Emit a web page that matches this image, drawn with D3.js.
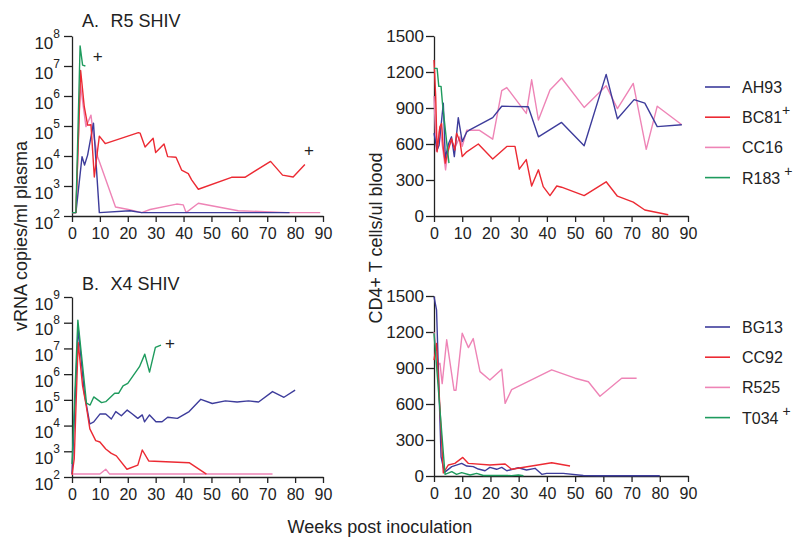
<!DOCTYPE html>
<html><head><meta charset="utf-8">
<script src="https://cdn.jsdelivr.net/npm/d3@7"></script>
<style>body{margin:0;background:#fff} svg{font-family:"Liberation Sans",Arial,sans-serif}</style>
</head><body><svg id="c" width="800" height="550"></svg>
<script>
const weekTicks = [0,10,20,30,40,50,60,70,80,90];
const cd4Ticks = [0,300,600,900,1200,1500];
const r5LogTicks = [2,3,4,5,6,7,8];
const x4LogTicks = [2,3,4,5,6,7,8,9];
const r5Animals = ["AH93","BC81","CC16","R183"];
const x4Animals = ["BG13","CC92","R525","T034"];
const r5Plus = [false,true,false,true];
const x4Plus = [false,false,false,true];
const colors = ["#3d3c9b","#ec2a33","#ee84b6","#1e9b5d"];

// R5 SHIV viral load [week, vRNA copies/ml]
const vlAH93 = [[0,130],[1.4,130],[3.6,9500],[4.5,5000],[5.6,10700],[7.7,125000],[9.8,130],[20.8,150],[25,130],[78,130]];
const vlBC81 = [[0,130],[1.4,130],[3.1,7100000],[4.4,440000],[5.6,107000],[6.8,110000],[8.0,2000],[9.8,46000],[11.9,26000],[23.8,60000],[24.4,58000],[26.2,20000],[29.1,39000],[30.0,13000],[33.0,25000],[34.3,9500],[37.3,9100],[39.3,3400],[41.7,2600],[42.9,1600],[45.3,780],[57.2,1950],[62.0,1950],[71.2,6600],[75.5,2300],[79.3,2000],[83.5,5200]];
const vlCC16 = [[0,130],[1.4,130],[3.0,2500000],[5.0,95000],[6.8,230000],[7.6,58000],[9.2,9500],[15.6,200],[20.2,165],[25.0,130],[28.0,165],[37.5,250],[39.9,235],[40.9,130],[45.3,265],[59.6,150],[77,130],[89,130]];
const vlR183 = [[0,130],[1.4,130],[2.9,47000000],[3.8,10700000],[4.8,10000000]];

// R5 SHIV CD4 counts [week, cells/ul]
const cdAH93 = [[0,690],[1.1,550],[1.8,590],[3.3,940],[4.0,480],[5.1,600],[6.2,660],[7.2,495],[8.6,820],[10,620],[11.6,700],[12.5,715],[20.8,820],[24,915],[33.4,910],[37,660],[45.2,780],[53.2,585],[61,1180],[65,810],[70.9,970],[74.7,940],[79.1,745],[87.8,760]];
const cdBC81 = [[0,1300],[0.6,995],[1.1,535],[2.1,745],[2.7,770],[3.3,565],[4.0,440],[5.1,550],[6.2,645],[7.4,550],[8,690],[9.2,620],[10,495],[11.6,535],[15.7,600],[20.8,475],[25.8,580],[28.7,580],[30.2,390],[32.7,470],[34.6,250],[37,385],[38.7,245],[41.1,170],[43.5,250],[45.2,240],[53.2,170],[61,285],[65,165],[70.6,115],[74.7,50],[83,10]];
const cdCC16 = [[0,1000],[0.8,540],[2.1,740],[4.1,385],[5.1,580],[6.2,620],[7.4,570],[9.2,660],[10,580],[11.6,715],[16,715],[20.8,640],[24,1045],[25.8,1070],[32.7,855],[34.6,1135],[37,800],[41.1,1050],[45.2,1150],[53.2,905],[61,1085],[65,895],[70.6,1105],[75.2,555],[79.1,915],[87.8,760]];
const cdR183 = [[0,1230],[1.1,1230],[1.7,1080],[2.5,1080],[3.0,940],[5.3,440]];

// X4 SHIV viral load
const vlBG13 = [[0,130],[2.2,63000000],[4.5,160000],[6.4,11500],[7.8,14000],[10,28000],[12.1,28000],[14.1,18000],[15.7,35000],[17.7,24000],[19.8,40000],[21.3,30000],[23.6,19000],[25.2,26000],[26,14000],[27.8,26000],[30.1,14000],[32.3,14000],[34.3,21000],[37.8,19000],[42,35000],[46.2,105000],[50.3,72000],[55,91000],[59.2,83000],[63.3,91000],[66.9,83000],[71.9,210000],[76,126000],[80,240000]];
const vlCC92 = [[0,120],[0.8,500],[2.2,17000000],[3.8,350000],[5.0,69000],[6.4,7400],[8.5,2600],[10,2300],[12.1,1230],[14.1,830],[15.9,660],[19.7,200],[23.6,290],[25.2,1120],[27.5,420],[42,360],[48.2,130]];
const vlR525 = [[0,130],[10,130],[12.1,200],[13.5,130],[71.9,130]];
const vlT034 = [[0,320],[2.1,126000000],[5.2,74000],[6.5,63000],[7.8,130000],[10.6,78000],[12.1,85000],[15.3,180000],[16.7,180000],[18.3,350000],[20,440000],[24.2,1950000],[26.1,6000000],[27.8,1200000],[29.9,11000000],[31.9,13500000]];

// X4 SHIV CD4 counts
const cdBG13 = [[0,1495],[0.9,1385],[2.5,160],[3.7,30],[6.3,78],[9.8,105],[11.6,83],[13.9,78],[15.7,58],[18.1,44],[19.8,72],[22.2,56],[24,72],[25.8,44],[29.9,69],[32.8,50],[35.8,64],[38.2,14],[39.9,22],[45.8,22],[52.9,4],[57.7,2],[80,2]];
const cdCC92 = [[0,965],[0.9,1105],[3.3,25],[5.1,92],[7.4,105],[10.2,155],[12.2,105],[19.8,92],[25.2,100],[27.5,56],[41.7,110],[48.2,83]];
const cdR525 = [[0,1200],[1.5,925],[2.1,940],[2.9,770],[4.5,1135],[7.1,715],[7.8,715],[10,1190],[12.2,1070],[13.9,1145],[16.3,870],[19.8,800],[24,890],[25.2,605],[27.5,720],[41.7,885],[50,815],[54.7,785],[58.8,665],[66.5,815],[71.8,815]];
const cdT034 = [[0,1190],[3.9,14],[6.3,36],[8,14],[9.8,28],[12.8,8],[15.1,22],[17.5,4],[26,4],[27.5,3],[29.9,8],[31.7,2]];

// "+" death annotations [week, value]
const plusA = [[9.2,20000000],[85,15000]];
const plusB = [[35.1,16000000]];

const svg = d3.select("#c");
const AX = "#222";

function axisStyle(g){
  g.selectAll("path,line").attr("stroke",AX).attr("stroke-width",1.3);
  g.selectAll("text").attr("fill","#222");
}

function panel(opts){
  const x = d3.scaleLinear().domain([0,90]).range(opts.xr);
  const y = opts.log
    ? d3.scaleLog().domain([100, opts.top]).range(opts.yr)
    : d3.scaleLinear().domain([0,1500]).range(opts.yr);
  const gx = svg.append("g").attr("transform",`translate(0,${opts.yr[0]})`)
    .call(d3.axisBottom(x).tickValues(weekTicks).tickSize(6).tickSizeOuter(0).tickPadding(6));
  gx.selectAll("text").attr("font-size",16);
  axisStyle(gx);
  const gy = svg.append("g").attr("transform",`translate(${opts.xr[0]},0)`);
  if(opts.log){
    const ticks = opts.logTicks.map(e=>Math.pow(10,e));
    gy.call(d3.axisLeft(y).tickValues(ticks).tickSize(8).tickSizeOuter(0).tickFormat(""));
    gy.selectAll(".tick").each(function(d){
      const t = d3.select(this).append("text").attr("x",-12).attr("y",12)
        .attr("text-anchor","end").attr("font-size",17).attr("fill","#222");
      t.append("tspan").text("10");
      t.append("tspan").attr("dy",-11).attr("font-size",12).text(Math.round(Math.log10(d)));
    });
  } else {
    gy.call(d3.axisLeft(y).tickValues(cd4Ticks).tickSize(8).tickSizeOuter(0).tickPadding(2).tickFormat(d3.format("d")));
    gy.selectAll("text").attr("font-size",17);
  }
  axisStyle(gy);
  const line = d3.line().x(d=>x(d[0])).y(d=>y(d[1]));
  opts.order.forEach(i=>{
    svg.append("path").datum(opts.series[i]).attr("d",line)
      .attr("fill","none").attr("stroke",colors[i]).attr("stroke-width",1.4)
      .attr("stroke-linejoin","round");
  });
  (opts.plus||[]).forEach(p=>{
    svg.append("text").attr("x",x(p[0])).attr("y",y(p[1])+5.5)
      .attr("text-anchor","middle").attr("font-size",17).attr("fill","#222").text("+");
  });
}

panel({xr:[72,323], yr:[216,36], log:true, top:1e8, logTicks:r5LogTicks,
  series:[vlAH93,vlBC81,vlCC16,vlR183], order:[2,0,1,3], plus:plusA});
panel({xr:[72,323], yr:[477,297], log:true, top:1e9, logTicks:x4LogTicks,
  series:[vlBG13,vlCC92,vlR525,vlT034], order:[2,0,1,3], plus:plusB});
panel({xr:[434,688], yr:[216,36], log:false,
  series:[cdAH93,cdBC81,cdCC16,cdR183], order:[2,0,1,3]});
panel({xr:[434,688], yr:[476,296], log:false,
  series:[cdBG13,cdCC92,cdR525,cdT034], order:[2,0,1,3]});

// titles
function title(letter, name, yb){
  svg.append("text").attr("x",82).attr("y",yb).attr("font-size",18).attr("fill","#222").text(letter);
  svg.append("text").attr("x",110.5).attr("y",yb).attr("font-size",18).attr("fill","#222").text(name);
}
title("A.","R5 SHIV",27);
title("B.","X4 SHIV",290);

// axis titles
svg.append("text").attr("transform","translate(27,236) rotate(-90)").attr("text-anchor","middle")
  .attr("font-size",18).attr("fill","#222").text("vRNA copies/ml plasma");
svg.append("text").attr("transform","translate(382,238) rotate(-90)").attr("text-anchor","middle")
  .attr("font-size",18).attr("fill","#222").text("CD4+ T cells/ul blood");
svg.append("text").attr("x",380).attr("y",533).attr("text-anchor","middle")
  .attr("font-size",18).attr("fill","#222").text("Weeks post inoculation");

// legends
function legend(names, plus, y0){
  names.forEach((n,i)=>{
    const yy = y0 + i*30.2;
    svg.append("line").attr("x1",705).attr("x2",730).attr("y1",yy).attr("y2",yy)
      .attr("stroke",colors[i]).attr("stroke-width",1.6);
    const t = svg.append("text").attr("x",742).attr("y",yy+6).attr("font-size",16).attr("fill","#222").text(n);
    if(plus[i]){
      const w = t.node().getComputedTextLength();
      const gap = (n==="BC81") ? 0 : 4;
      svg.append("text").attr("x",742+w+gap).attr("y",yy-2).attr("font-size",14).attr("fill","#222").text("+");
    }
  });
}
legend(r5Animals, r5Plus, 87);
legend(x4Animals, x4Plus, 327);
</script></body></html>
